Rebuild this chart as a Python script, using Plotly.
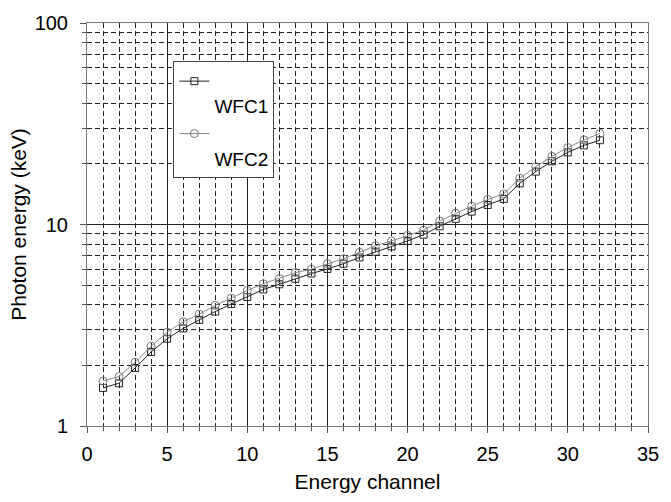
import plotly.graph_objects as go

channels = list(range(1, 33))
wfc1 = [1.545, 1.63, 1.94, 2.33, 2.71, 3.05, 3.36, 3.70, 4.03, 4.37, 4.76, 5.05,
        5.38, 5.71, 6.02, 6.39, 6.86, 7.33, 7.78, 8.29, 8.90, 9.80, 10.67, 11.59,
        12.5, 13.4, 16.0, 18.3, 20.6, 22.8, 24.7, 26.2]
wfc2 = [1.67, 1.76, 2.07, 2.49, 2.92, 3.29, 3.59, 3.97, 4.31, 4.71, 5.08, 5.39,
        5.77, 6.0, 6.39, 6.76, 7.28, 7.84, 8.29, 8.83, 9.37, 10.4, 11.37, 12.33,
        13.3, 14.2, 16.98, 19.35, 21.8, 24.1, 26.3, 28.3]
x_ticks = [0, 5, 10, 15, 20, 25, 30, 35]
y_ticks = [1, 10, 100]

FONT = "Liberation Sans, Arial, sans-serif"
DASH = "5px,3px"

fig = go.Figure()
fig.add_trace(go.Scatter(
    x=channels, y=wfc1, name="&nbsp;<br>WFC1", mode="lines+markers",
    line=dict(color="#222222", width=1),
    marker=dict(symbol="square-open", size=7, color="#222222", line=dict(width=1)),
))
fig.add_trace(go.Scatter(
    x=channels, y=wfc2, name="&nbsp;<br>WFC2", mode="lines+markers",
    line=dict(color="#888888", width=1),
    marker=dict(symbol="circle-open", size=8, color="#777777", line=dict(width=1)),
))

fig.update_layout(
    width=671, height=502,
    margin=dict(l=87, r=12, t=15, b=74),
    paper_bgcolor="white", plot_bgcolor="white",
    font=dict(family=FONT, size=20, color="black"),
    showlegend=True,
    legend=dict(
        x=0.154, y=0.905, xanchor="left", yanchor="top",
        bgcolor="white", bordercolor="#444444", borderwidth=1,
        font=dict(size=19), valign="top", itemwidth=30,
        tracegroupgap=0,
    ),
)

fig.update_xaxes(
    range=[0, 35], tickvals=x_ticks, ticktext=[str(v) for v in x_ticks],
    showgrid=True, gridcolor="#222222", gridwidth=1,
    showline=True, linecolor="#777777", linewidth=1, mirror=True,
    ticks="outside", ticklen=6, tickcolor="#555555",
    zeroline=False,
    minor=dict(dtick=1, showgrid=True, gridcolor="#222222", griddash=DASH,
               gridwidth=1, ticks="outside", ticklen=4, tickcolor="#555555"),
    title=dict(text="Energy channel", font=dict(size=21), standoff=10),
    tickfont=dict(size=20), ticklabelstandoff=4,
)
fig.update_yaxes(
    type="log", range=[0, 2], tickvals=y_ticks, ticktext=[str(v) for v in y_ticks],
    showgrid=True, gridcolor="#222222", gridwidth=1,
    showline=True, linecolor="#777777", linewidth=1, mirror=True,
    ticks="outside", ticklen=6, tickcolor="#555555",
    zeroline=False,
    minor=dict(dtick="D1", showgrid=True, gridcolor="#222222", griddash=DASH,
               gridwidth=1, ticks="outside", ticklen=4, tickcolor="#555555"),
    title=dict(text="Photon energy (keV)", font=dict(size=21), standoff=2),
    tickfont=dict(size=20), ticklabelstandoff=8,
)

fig.write_html("out.html")
